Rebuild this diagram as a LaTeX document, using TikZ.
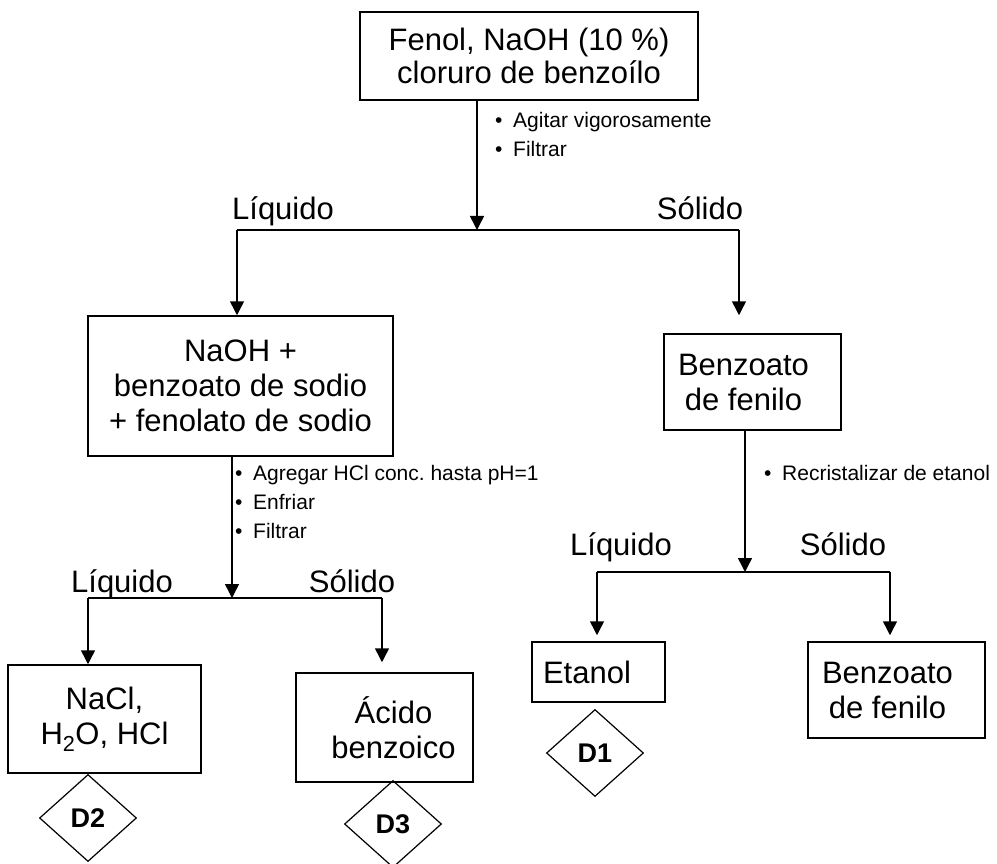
\documentclass[tikz,border=0pt]{standalone}
\usepackage{fontspec}
\setmainfont{Liberation Sans}
\usetikzlibrary{arrows.meta,shapes.geometric}
\newcommand{\stepitem}[1]{\makebox[18pt][l]{\textbullet}#1}
\newcommand{\lpad}{\hspace*{18pt}}

\begin{document}
\begin{tikzpicture}[x=1pt,y=-1pt,
box/.style={%
draw,
line width=1.5pt,
align=center,
inner sep=0pt,
font=\fontsize{31}{35}\selectfont
},
dtag/.style={%
draw,
diamond,
line width=1.2pt,
inner sep=0pt,
minimum width=97pt,
minimum height=87pt,
font=\fontsize{27}{27}\selectfont\bfseries
},
phase/.style={%
anchor=base,
font=\fontsize{31}{31}\selectfont
},
steps/.style={%
anchor=north west,
align=left,
inner sep=0pt,
font=\fontsize{21}{29}\selectfont
},
flow/.style={%
line width=1.5pt,
-{Triangle[length=14pt,width=14pt]}
},
branch/.style={%
line width=1.5pt
},
]
\useasboundingbox (0,0) rectangle (997,864);
%% Start
\node[box,minimum width=338pt,minimum height=88pt,
font=\fontsize{31}{33}\selectfont] (mix) at (529,56)
{Fenol, NaOH (10 \%)\\cloruro de benzoílo};
\coordinate (s1) at (477,230);
\draw[flow] (mix.south -| s1) -- (s1);
\node[steps] (st1) at (495,112)
{\stepitem{Agitar vigorosamente}\\\stepitem{Filtrar}};
\coordinate (s1l) at (237,230);
\coordinate (s1r) at (739,230);
\draw[branch] (s1l) -- (s1r);
\node[phase] (liq1) at (283,220) {Líquido};
\node[phase] (sol1) at (700,220) {Sólido};
%% Liquid
\node[box,minimum width=305pt,minimum height=140pt] (salts) at (240.5,386)
{NaOH +\\benzoato de sodio\\+ fenolato de sodio};
\draw[flow] (s1l) -- (s1l |- salts.north);
\coordinate (s2) at (232,598);
\draw[flow] (salts.south -| s2) -- (s2);
\node[steps] (st2) at (235,465)
{\stepitem{Agregar HCl conc.\ hasta pH=1}\\\stepitem{Enfriar}\\\stepitem{Filtrar}};
\coordinate (s2l) at (88,598);
\coordinate (s2r) at (382,598);
\draw[branch] (s2l) -- (s2r);
\node[phase] (liq2) at (122,592) {Líquido};
\node[phase] (sol2) at (352,592) {Sólido};
\node[box,minimum width=193pt,minimum height=108pt] (brine) at (104.5,719)
{NaCl,\\H\textsubscript{2}O, HCl};
\node[box,minimum width=177pt,minimum height=109pt] (acid) at (384.5,727.5)
{\lpad Ácido\\\lpad benzoico};
\draw[flow] (s2l) -- (s2l |- brine.north);
\draw[flow,shorten >=10pt] (s2r) -- (s2r |- acid.north);
\node[dtag] (d2) at (88,818) {D2};
\node[dtag] (d3) at (393,824) {D3};
%% Solid
\node[box,minimum width=177pt,minimum height=96pt] (ester) at (752.5,382)
{Benzoato\lpad\\de fenilo\lpad};
\draw[flow,shorten >=18pt] (s1r) -- (s1r |- ester.north);
\coordinate (s3) at (745,572);
\draw[flow] (ester.south -| s3) -- (s3);
\node[steps] (st3) at (764,465) {\stepitem{Recristalizar de etanol}};
\coordinate (s3l) at (597,572);
\coordinate (s3r) at (890,572);
\draw[branch] (s3l) -- (s3r);
\node[phase] (liq3) at (621,555) {Líquido};
\node[phase] (sol3) at (843,555) {Sólido};
\node[box,minimum width=133pt,minimum height=60pt] (etoh) at (598.5,672)
{Etanol\hspace*{23pt}};
\node[box,minimum width=177pt,minimum height=96pt] (pure) at (896.5,690)
{Benzoato\lpad\\de fenilo\lpad};
\draw[flow,shorten >=6pt] (s3l) -- (s3l |- etoh.north);
\draw[flow,shorten >=6pt] (s3r) -- (s3r |- pure.north);
\node[dtag] (d1) at (595,753) {D1};
\end{tikzpicture}
\end{document}
